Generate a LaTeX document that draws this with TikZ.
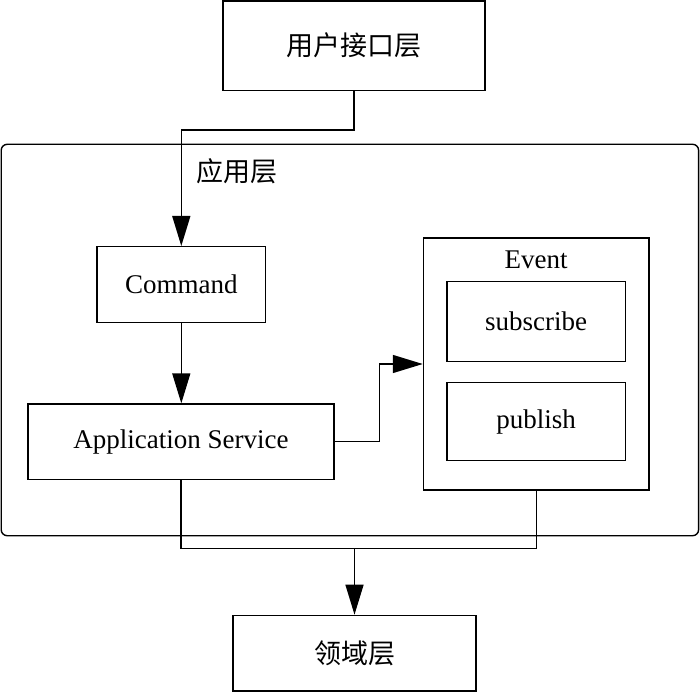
\documentclass[tikz,border=0pt]{standalone}
\usepackage{fontspec}
\setmainfont{Liberation Serif}
\newfontfamily\cjk{Noto Sans CJK SC}
\usetikzlibrary{arrows.meta}
\begin{document}
\begin{tikzpicture}[x=1pt,y=-1pt,
  line width=1.4pt,
  box/.style={draw=black, line width=1.4pt, rectangle, inner sep=0pt,
    font=\fontsize{27}{32}\selectfont},
  cjkbox/.style={box, font=\cjk\fontsize{27}{32}\selectfont},
  lbl/.style={inner sep=0pt, font=\fontsize{27}{32}\selectfont},
  arr/.style={-{Triangle[length=30pt,width=18pt]}}]
\useasboundingbox (0,0) rectangle (700,692);
% outer application layer
\node[draw=black, line width=1.4pt, rounded corners=6pt, inner sep=0pt,
  minimum width=697.4pt, minimum height=391.4pt] (outer) at (349.9,340) {};
\node[lbl, font=\cjk\fontsize{27}{32}\selectfont] (applbl) at (236.5,171) {应用层};
% boxes
\node[cjkbox, minimum width=262pt, minimum height=89.3pt] (top) at (354,45.6) {用户接口层};
\node[box, minimum width=168.6pt, minimum height=75.6pt] (cmd) at (181.3,284.5) {Command};
\node[box, minimum width=306.3pt, minimum height=75.3pt] (app) at (181,441.7) {Application Service};
\node[box, minimum width=225.5pt, minimum height=252pt] (event) at (536.2,364) {};
\node[lbl] (evlbl) at (536.2,260) {Event};
\node[box, minimum width=178.4pt, minimum height=80pt] (sub) at (536.2,321.7) {subscribe};
\node[box, minimum width=178.4pt, minimum height=77.8pt] (pub) at (536.2,421.6) {publish};
\node[cjkbox, minimum width=243pt, minimum height=75.7pt] (bot) at (354.5,653.2) {领域层};
% junctions
\coordinate (j1) at (181.3,130);
\coordinate (j2) at (379.3,364);
\coordinate (j3) at (354.5,548.5);
% connectors
\draw[arr] (top.south) |- (j1) -- (cmd.north);
\draw[arr] (cmd.south) -- (app.north -| cmd.south);
\draw[arr] (app.east) -| (j2) -- (event.west);
\draw (app.south) |- (j3);
\draw (event.south) |- (j3);
\draw[arr] (j3) -- (bot.north);
\end{tikzpicture}
\end{document}
